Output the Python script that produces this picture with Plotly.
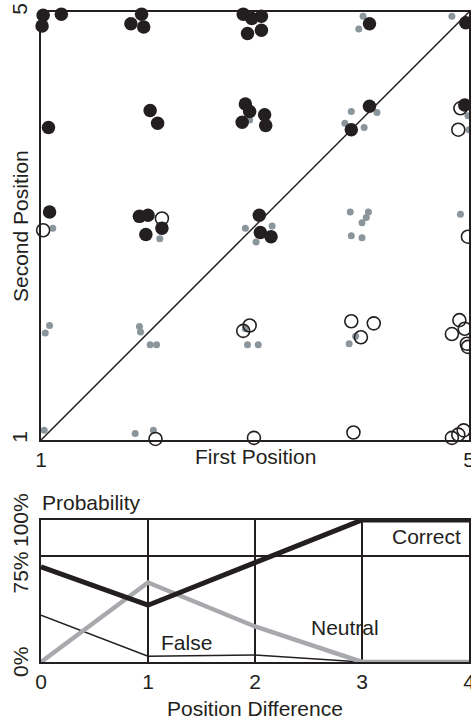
import plotly.graph_objects as go

# ---------------- data ----------------
positions = [1, 2, 3, 4, 5]

# filled black circles (Second Position > First Position mostly)
black_x = [1.02, 1.01, 1.19, 1.94, 1.84, 1.96, 2.89, 2.97, 3.06, 2.93, 3.06, 4.07, 4.97,
           1.07, 2.02, 2.09, 2.91, 2.95, 3.09, 2.88, 3.10, 4.07, 3.90, 4.96,
           1.08, 1.92, 2.00, 2.13, 1.98, 3.04, 3.05, 3.15,
           1.13]
black_y = [4.97, 4.87, 4.98, 4.98, 4.89, 4.86, 4.98, 4.94, 4.96, 4.80, 4.83, 4.89, 4.90,
           3.92, 4.08, 3.96, 4.14, 4.07, 4.04, 3.97, 3.94, 4.12, 3.90, 4.13,
           3.13, 3.09, 3.10, 2.98, 2.92, 3.10, 2.94, 2.90,
           0.99]

# open circles
open_x = [4.92, 4.90, 1.02, 2.13, 4.99, 2.95, 2.89, 3.90, 4.11, 3.99, 4.91, 4.84, 4.96,
          4.98, 4.99, 2.07, 2.05, 2.99, 3.92, 4.84, 4.90, 4.95]
open_y = [4.10, 3.90, 2.96, 3.07, 2.90, 2.07, 2.02, 2.11, 2.09, 1.96, 2.12, 1.99, 2.04,
          1.90, 1.87, 1.01, 0.95, 1.02, 1.07, 1.02, 1.05, 1.09]

# small grey dots
gray_x = [4.01, 3.97, 4.84, 2.95, 3.90, 4.14, 3.84, 4.02, 4.99, 5.00,
          0.97, 1.11, 2.11, 2.91, 3.16, 3.01, 3.89, 4.06, 4.04, 4.00, 3.90, 4.00, 4.92,
          1.08, 1.04, 1.92, 1.93, 2.02, 2.08, 2.91, 2.93, 3.03, 3.94, 3.88,
          1.03, 1.88, 2.05, 1.96]
gray_y = [4.96, 4.84, 4.96, 3.99, 4.07, 4.06, 3.96, 3.92, 4.03, 3.90,
          3.09, 2.98, 2.88, 2.98, 3.00, 2.85, 3.13, 3.13, 3.08, 3.03, 2.91, 2.89, 3.11,
          2.07, 2.00, 2.06, 2.01, 1.89, 1.89, 2.04, 1.89, 1.89, 1.97, 1.90,
          1.09, 1.06, 1.09, 0.97]

# bottom panel: probability vs position difference
pos_diff = [0, 1, 2, 3, 4]
p_correct = [0.67, 0.40, 0.70, 1.00, 1.00]
p_neutral = [0.00, 0.56, 0.25, 0.00, 0.00]
p_false = [0.33, 0.04, 0.05, 0.00, 0.00]

prob_ticks = [0, 0.75, 1.0]
prob_labels = ["0%", "75%", "100%"]

# ---------------- style ----------------
INK = "#231f20"
GREY_DOT = "#8b959c"
GREY_LINE = "#a7a9ac"
FONT = "Liberation Sans, Arial, sans-serif"
FS = 21

fig = go.Figure()

# diagonal identity line
fig.add_trace(go.Scatter(x=[positions[0], positions[-1]], y=[positions[0], positions[-1]],
                         mode="lines", line=dict(color=INK, width=1.5),
                         xaxis="x", yaxis="y", hoverinfo="skip", cliponaxis=False))
fig.add_trace(go.Scatter(x=gray_x, y=gray_y, mode="markers",
                         marker=dict(size=7, color=GREY_DOT, line=dict(width=0)),
                         xaxis="x", yaxis="y", cliponaxis=False))
fig.add_trace(go.Scatter(x=open_x, y=open_y, mode="markers",
                         marker=dict(size=13, color=INK, symbol="circle-open",
                                     line=dict(width=1.6, color=INK)),
                         xaxis="x", yaxis="y", cliponaxis=False))
fig.add_trace(go.Scatter(x=black_x, y=black_y, mode="markers",
                         marker=dict(size=13.5, color=INK, line=dict(width=0)),
                         xaxis="x", yaxis="y", cliponaxis=False))

# bottom lines
fig.add_trace(go.Scatter(x=pos_diff, y=p_false, mode="lines",
                         line=dict(color=INK, width=1.5),
                         xaxis="x2", yaxis="y2", cliponaxis=False))
fig.add_trace(go.Scatter(x=pos_diff, y=p_neutral, mode="lines",
                         line=dict(color=GREY_LINE, width=4.5),
                         xaxis="x2", yaxis="y2", cliponaxis=False))
fig.add_trace(go.Scatter(x=pos_diff, y=p_correct, mode="lines",
                         line=dict(color=INK, width=5),
                         xaxis="x2", yaxis="y2", cliponaxis=False))

axis_common = dict(showline=True, mirror=True, linecolor=INK, linewidth=1.5,
                   zeroline=False, ticks="", automargin=False, ticklabeloverflow="allow",
                   tickfont=dict(size=FS, color=INK, family=FONT))

annotations = [
    dict(text="First Position", x=3.0, xref="x", y=(662 - 456) / 650, yref="paper",
         showarrow=False, xanchor="center", yanchor="middle", font=dict(size=FS)),
    dict(text="Second Position", x=(20 - 41) / 428, xref="paper", y=3.0, yref="y",
         showarrow=False, textangle=-90, xanchor="center", yanchor="middle", font=dict(size=FS)),
    dict(text="Position Difference", x=2.0, xref="x2", y=(662 - 708) / 650, yref="paper",
         showarrow=False, xanchor="center", yanchor="middle", font=dict(size=FS)),
    dict(text="Probability", x=(40 - 41) / 428, xref="paper", y=(662 - 502) / 650, yref="paper",
         showarrow=False, xanchor="left", yanchor="middle", font=dict(size=FS)),
    dict(text="Correct", x=4, xref="x2", y=0.885, yref="y2", xshift=-6,
         showarrow=False, xanchor="right", yanchor="middle", font=dict(size=FS)),
    dict(text="Neutral", x=2.84, xref="x2", y=0.24, yref="y2",
         showarrow=False, xanchor="center", yanchor="middle", font=dict(size=FS)),
    dict(text="False", x=1.36, xref="x2", y=0.137, yref="y2",
         showarrow=False, xanchor="center", yanchor="middle", font=dict(size=FS)),
]
# rotated probability tick labels (75% sits just below its grid line, as in the original)
shifts = {0: 0, 0.75: -17, 1.0: 0}
for v, lab in zip(prob_ticks, prob_labels):
    annotations.append(dict(text=lab, x=(20 - 41) / 428, xref="paper", y=v, yref="y2",
                            yshift=shifts[v], showarrow=False, textangle=-90,
                            xanchor="center", yanchor="middle", font=dict(size=FS)))

fig.update_layout(
    width=471, height=719,
    margin=dict(l=41, r=2, t=12, b=57, autoexpand=False),
    paper_bgcolor="white", plot_bgcolor="white",
    showlegend=False,
    font=dict(family=FONT, color=INK, size=FS),
    xaxis=dict(domain=[0, 1], range=[1, 5], tickvals=[1, 5], ticktext=["1", "5"],
               anchor="y", showgrid=False, **axis_common),
    yaxis=dict(domain=[(662 - 440) / 650, 1], range=[1, 5], tickvals=[1, 5],
               ticktext=["1", "5"], tickangle=-90, anchor="x", showgrid=False,
               ticklabelstandoff=4, **axis_common),
    xaxis2=dict(domain=[0, 1], range=[0, 4], tickvals=pos_diff,
                ticktext=[str(v) for v in pos_diff], anchor="y2",
                showgrid=True, gridcolor=INK, gridwidth=1.5, **axis_common),
    yaxis2=dict(domain=[0, 142 / 650], range=[0, 1], tickvals=prob_ticks,
                showticklabels=False, anchor="x2",
                showgrid=True, gridcolor=INK, gridwidth=1.5, **axis_common),
    annotations=annotations,
    hovermode=False,
)

fig.write_html(
    "out.html",
    config={"displayModeBar": False},
    post_script="document.body.style.margin='0';document.body.style.overflow='hidden';",
)
